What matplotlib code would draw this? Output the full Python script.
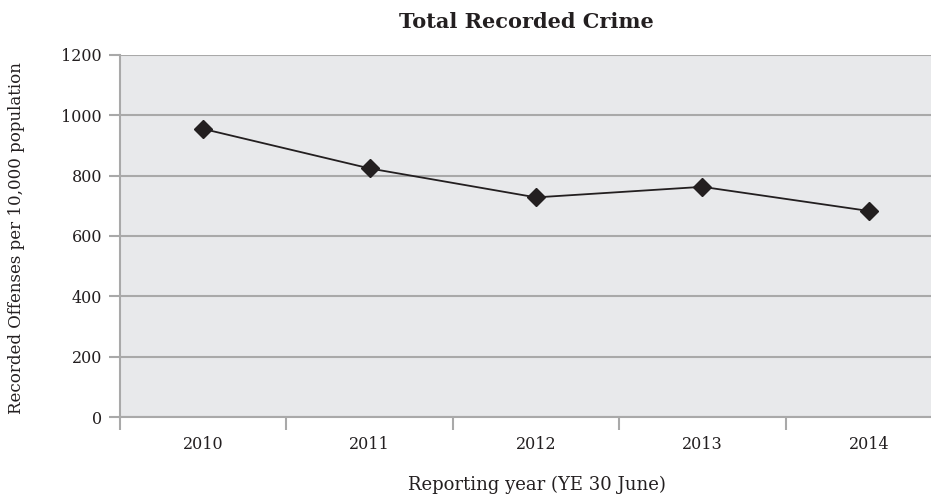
import matplotlib
matplotlib.use('Agg')
import matplotlib.pyplot as plt

years = ['2010', '2011', '2012', '2013', '2014']
offenses = [955, 824, 728, 763, 683]
yticks = [0, 200, 400, 600, 800, 1000, 1200]

plt.rcParams['font.family'] = ['DejaVu Serif']

grid_col = '#a9a9a9'
text_col = '#231f20'

fig = plt.figure(figsize=(9.31, 4.99), dpi=100)
# axes extends a little past the right edge, as in the source image
ax = fig.add_axes([120 / 931, 1 - 417 / 499, 832 / 931, 362 / 499])
ax.set_facecolor('#e8e9eb')

xs = list(range(len(years)))
ax.plot(xs, offenses, color=text_col, lw=1.3, marker='D', ms=9,
        markerfacecolor=text_col, markeredgecolor=text_col, zorder=3)

ax.set_xlim(-0.5, len(years) - 0.5)
ax.set_ylim(0, 1200)
ax.set_yticks(yticks)
ax.set_yticklabels([str(v) for v in yticks], fontsize=11.5, color=text_col)
ax.yaxis.grid(True, color=grid_col, lw=1.5)
ax.set_axisbelow(True)

# category boundary ticks on the x axis, labels in the centres
ax.set_xticks([x - 0.5 for x in xs] + [len(years) - 0.5])
ax.set_xticklabels([])
ax.set_xticks(xs, minor=True)
ax.set_xticklabels(years, minor=True, fontsize=11.5, color=text_col)
ax.tick_params(axis='x', which='major', length=9, width=1.5, color=grid_col, direction='out')
ax.tick_params(axis='x', which='minor', length=0, pad=14)
ax.tick_params(axis='y', length=8, width=1.5, color=grid_col, pad=5)

for side in ['top', 'right']:
    ax.spines[side].set_visible(False)
for side in ['left', 'bottom']:
    ax.spines[side].set_color(grid_col)
    ax.spines[side].set_linewidth(1.5)

fig.text(526 / 931, 1 - 22 / 499, 'Total Recorded Crime', ha='center', va='center',
         fontsize=15, fontweight='bold', color=text_col)
fig.text(537 / 931, 1 - 485 / 499, 'Reporting year (YE 30 June)', ha='center', va='center',
         fontsize=13, color=text_col)
fig.text(17 / 931, 1 - 238 / 499, 'Recorded Offenses per 10,000 population', ha='center',
         va='center', rotation=90, fontsize=12, color=text_col)

fig.savefig('out.png', dpi=100)
